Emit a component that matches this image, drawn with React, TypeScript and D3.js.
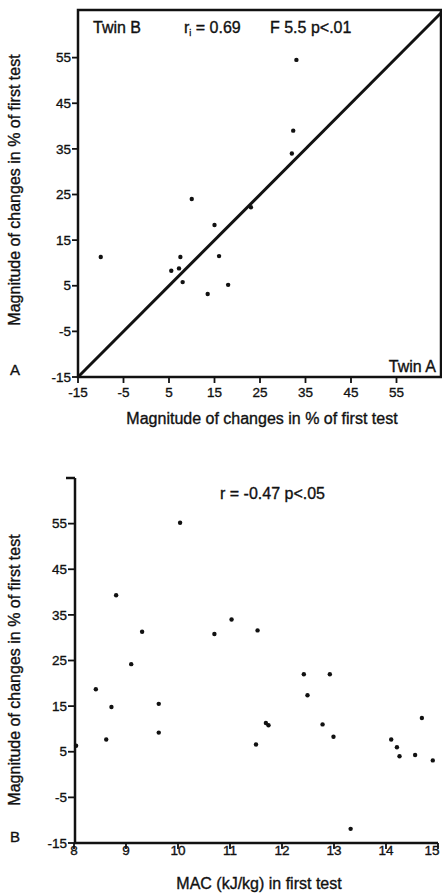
import React from "react";
import * as d3 from "d3";

// Panel A: twin A vs twin B (% change)
const twinA = [33, 32.3, 32, 10, 23, 15, -10, 7.5, 16, 5.5, 7.2, 8, 18, 13.5];
const twinB = [54.5, 39, 34, 24, 22.2, 18.3, 11.3, 11.3, 11.5, 8.3, 8.8, 5.8, 5.2, 3.2];

// Panel B: MAC in first test vs % change
const mac = [10.04, 8.81, 9.31, 9.1, 10.7, 11.03, 11.53, 12.42, 12.92, 8.42, 8.04, 8.62, 8.72, 9.63, 9.63, 11.5, 11.69, 11.74, 12.49, 12.78, 12.99, 13.32, 14.1, 14.21, 14.26, 14.56, 14.69, 14.9];
const change = [55.2, 39.3, 31.3, 24.2, 30.8, 34.0, 31.6, 22.0, 22.0, 18.7, 6.3, 7.7, 14.8, 15.5, 9.2, 6.6, 11.3, 10.8, 17.4, 11.0, 8.3, -11.9, 7.7, 6.0, 4.0, 4.3, 12.4, 3.1];

const pctTicks = [-15, -5, 5, 15, 25, 35, 45, 55];
const macTicks = [8, 9, 10, 11, 12, 13, 14, 15];

const yTitle = "Magnitude of changes in % of first test";
const FONT = "'Liberation Sans', Arial, Helvetica, sans-serif";
const INK = "#111";

export default function App() {
  const xA = d3.scaleLinear().domain([-15, 65]).range([78, 442]);
  const yA = d3.scaleLinear().domain([-15, 65]).range([377, 12]);
  const xB = d3.scaleLinear().domain([8, 15]).range([74, 438]);
  const yB = d3.scaleLinear().domain([-15, 65]).range([843, 478]);

  const line = d3.line<[number, number]>().x((d) => xA(d[0])).y((d) => yA(d[1]));
  const txt = { stroke: INK, strokeWidth: 0.35 };

  return (
    <svg
      width={442}
      height={893}
      style={{ position: "absolute", left: 0, top: 0, background: "#fff" }}
      fontFamily={FONT}
      fill={INK}
    >
      {/* ---------- Panel A ---------- */}
      <rect x={xA(-15)} y={10} width={441 - xA(-15)} height={yA(-15) - 10} fill="none" stroke={INK} strokeWidth={2.5} />
      {pctTicks.map((t) => (
        <g key={"ya" + t}>
          <line x1={xA(-15) - 6} x2={xA(-15)} y1={yA(t)} y2={yA(t)} stroke={INK} strokeWidth={1.8} />
          <text x={xA(-15) - 7} y={yA(t)} dy="0.35em" textAnchor="end" fontSize={13.5} {...txt}>{t}</text>
        </g>
      ))}
      {pctTicks.map((t) => (
        <g key={"xa" + t}>
          <line x1={xA(t)} x2={xA(t)} y1={yA(-15)} y2={yA(-15) + 6} stroke={INK} strokeWidth={1.8} />
          <text x={xA(t)} y={397} textAnchor="middle" fontSize={13.5} {...txt}>{t}</text>
        </g>
      ))}
      <path d={line([[-15, -15], [65, 65]]) || ""} fill="none" stroke={INK} strokeWidth={3} />
      {twinA.map((v, i) => (
        <circle key={"pa" + i} cx={xA(v)} cy={yA(twinB[i])} r={2.2} fill={INK} />
      ))}
      <text x={93} y={33} fontSize={16} {...txt}>Twin B</text>
      <text x={184} y={33} fontSize={16} {...txt}>
        r<tspan fontSize={9} dy={3}>i</tspan><tspan dy={-3}> = 0.69</tspan>
      </text>
      <text x={270} y={33} fontSize={16} {...txt}>F 5.5 p&lt;.01</text>
      <text x={436} y={372} fontSize={16} textAnchor="end" {...txt}>Twin A</text>
      <text x={10} y={375} fontSize={15} {...txt}>A</text>
      <text x={262} y={424} fontSize={16} textAnchor="middle" {...txt}>{yTitle}</text>
      <text transform="translate(20,190) rotate(-90)" fontSize={16} textAnchor="middle" {...txt}>{yTitle}</text>

      {/* ---------- Panel B ---------- */}
      <line x1={xB(8) + 1} x2={xB(8) + 1} y1={yB(65)} y2={yB(-15)} stroke={INK} strokeWidth={2.5} />
      <line x1={xB(8) - 8} x2={xB(8) + 1} y1={yB(65)} y2={yB(65)} stroke={INK} strokeWidth={2.5} />
      <line x1={xB(8)} x2={xB(15)} y1={yB(-15)} y2={yB(-15)} stroke={INK} strokeWidth={2.5} />
      {pctTicks.map((t) => (
        <g key={"yb" + t}>
          <line x1={xB(8) - 6} x2={xB(8)} y1={yB(t)} y2={yB(t)} stroke={INK} strokeWidth={1.8} />
          <text x={xB(8) - 7} y={yB(t)} dy="0.35em" textAnchor="end" fontSize={13.5} {...txt}>{t}</text>
        </g>
      ))}
      {macTicks.map((t) => (
        <g key={"xb" + t}>
          <line x1={xB(t)} x2={xB(t)} y1={yB(-15)} y2={yB(-15) + 6} stroke={INK} strokeWidth={1.8} />
          <text x={Math.min(xB(t), 432)} y={855} textAnchor="middle" fontSize={13.5} {...txt}>{t}</text>
        </g>
      ))}
      {mac.map((v, i) => (
        <circle key={"pb" + i} cx={xB(v)} cy={yB(change[i])} r={2.2} fill={INK} />
      ))}
      <text x={220} y={499} fontSize={16} {...txt}>r = -0.47 p&lt;.05</text>
      <text x={10} y={842} fontSize={15} {...txt}>B</text>
      <text x={259} y={889} fontSize={16} textAnchor="middle" {...txt}>MAC (kJ/kg) in first test</text>
      <text transform="translate(20,670) rotate(-90)" fontSize={16} textAnchor="middle" {...txt}>{yTitle}</text>
    </svg>
  );
}
